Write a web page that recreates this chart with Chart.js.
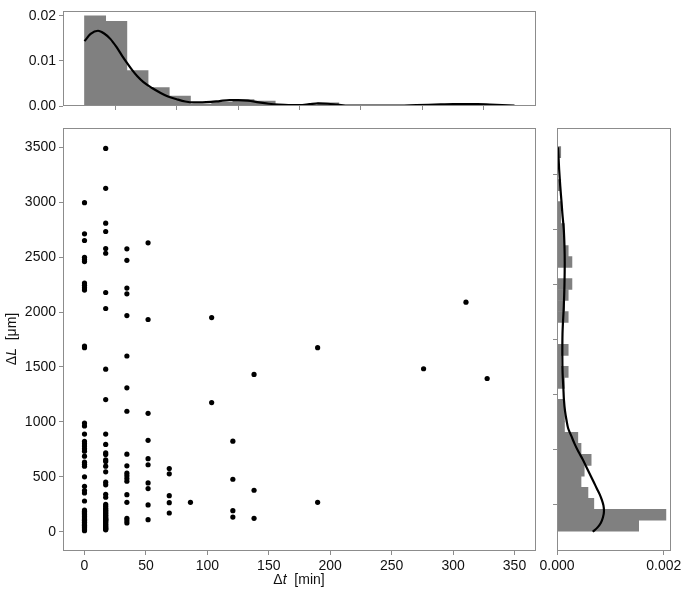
<!DOCTYPE html>
<html>
<head>
<meta charset="utf-8">
<script src="https://cdn.jsdelivr.net/npm/chart.js@4.4.1/dist/chart.umd.min.js"></script>
<style>
  html, body { margin: 0; padding: 0; background: #fff; }
  #wrap { position: relative; width: 685px; height: 594px; }
  #wrap canvas { position: absolute; left: 0; top: 0; }
</style>
</head>
<body>
<div id="wrap">
  <canvas id="topHist" width="685" height="594"></canvas>
  <canvas id="sideHist" width="685" height="594"></canvas>
  <canvas id="scatter" width="685" height="594"></canvas>
</div>
<script>
// lag times (min) and the ΔL values (µm) seen at each lag
const lagMinutes = [0, 17.25, 34.5, 51.75, 69, 86.25, 103.5, 120.75, 138, 189.75, 276, 310.5, 327.75];
const lag0 = [2995, 2712, 2651, 2498, 2477, 2459, 2264, 2243, 2221, 2200, 1690, 1675,
  990, 963, 889, 822, 802, 780, 756, 734, 688, 633, 615, 597, 500, 414, 375, 353, 280,
  198, 187, 176, 167, 157, 146, 139, 127, 118, 111, 106, 97, 87, 79, 67, 59, 47, 39, 27, 19, 10];
const lag17 = [3489, 3126, 2809, 2733, 2578, 2535, 2178, 2032, 1480, 1203,
  889, 795, 719, 704, 655, 640, 597, 546, 451, 427, 341, 314, 249, 232, 215,
  201, 191, 183, 171, 163, 151, 143, 131, 123, 114, 109, 106, 95, 86, 74, 66, 54, 46, 37, 31, 24, 18];
const lag34 = [2575, 2471, 2218, 2166, 1968, 1600, 1310, 1097, 706, 600, 533, 509, 485, 460, 338, 268, 122, 101, 80];
const lag52 = [2630, 1932, 1078, 832, 665, 610, 445, 393, 244, 110];
const lag69 = [576, 527, 329, 265, 171];
const lag86 = [268];
const lag104 = [1950, 1176];
const lag121 = [825, 478, 192, 134];
const lag138 = [1432, 378, 122];
const lag190 = [1676, 268];
const lag276 = [1484];
const lag311 = [2090];
const lag328 = [1395];
const lengthsByLag = [lag0, lag17, lag34, lag52, lag69, lag86, lag104, lag121, lag138, lag190, lag276, lag311, lag328];

// marginal histogram of Δt (density), 19 bins of 17.25 min from 0
const topBinWidth = 17.25;
const topHistDensity = [0.0200, 0.0188, 0.00785, 0.0041, 0.0022, 0.00041, 0.00082, 0.00143, 0.0011,
  0, 0, 0.0007, 0, 0, 0, 0, 0.0002, 0, 0.0003];
// KDE of Δt
const kdeT = [0, 5, 11, 16, 21, 26, 30.5, 35, 39, 43, 48, 55, 62, 68, 75, 82, 89, 96, 103, 110, 118, 125,
  133, 142, 150, 158, 166, 175, 183, 190, 198, 206, 215, 230, 250, 270, 285, 300, 310, 320, 330, 340, 350];
const kdeTDensity = [0.0144, 0.0160, 0.0167, 0.0161, 0.0149, 0.0131, 0.0112, 0.0094, 0.0079, 0.0066, 0.0053,
  0.0040, 0.0029, 0.0021, 0.0015, 0.0010, 0.0008, 0.0008, 0.0009, 0.0011, 0.0013, 0.0013, 0.0012, 0.0008,
  0.0005, 0.0003, 0.0002, 0.0002, 0.0004, 0.0006, 0.0005, 0.0003, 0.0001, 0.0001, 0.0001, 0.0002, 0.0003,
  0.0004, 0.0004, 0.0004, 0.0003, 0.0002, 0.0001];

// marginal histogram of ΔL (density), 35 bins of 100 µm from 5
const sideBinStart = 5;
const sideBinWidth = 100;
const sideHistDensity = [0.00153, 0.00204, 0.00069, 0.00058, 0.00045, 0.00051, 0.00064, 0.00045, 0.00039,
  0.00014, 0.00014, 0.00014, 0, 0.00014, 0.00021, 0.00007, 0.00021, 0, 0, 0.00021, 0.00014, 0.00021,
  0.00028, 0, 0.00028, 0.00021, 0.00014, 0.00014, 0.00007, 0.00007, 0, 0.00007, 0, 0, 0.00007];
// KDE of ΔL
const kdeL = [0, 40, 80, 130, 190, 240, 290, 340, 390, 450, 510, 590, 660, 730, 800, 870, 940, 1010, 1100,
  1200, 1300, 1440, 1600, 1800, 2050, 2250, 2450, 2600, 2750, 2900, 3000, 3150, 3300, 3500];
const kdeLDensity = [0.00067, 0.00076, 0.00082, 0.00086, 0.00088, 0.00087, 0.00084, 0.00080, 0.00075,
  0.00069, 0.00063, 0.00055, 0.00048, 0.00040, 0.00033, 0.00027, 0.00021, 0.00018, 0.00015, 0.00013,
  0.00012, 0.000105, 0.0001, 0.000103, 0.000127, 0.00014, 0.000145, 0.00014, 0.000127, 0.0001, 0.000085,
  0.00006, 0.00004, 0.00002];

// tick labels
const tTicks = [0, 50, 100, 150, 200, 250, 300, 350];
const lTicks = [0, 500, 1000, 1500, 2000, 2500, 3000, 3500];
const topDensityTicks = [0, 0.01, 0.02];
const sideDensityTicks = [0, 0.002];

const FRAME = "#8c8c8c";
const TEXT = "#111";
const FAMILY = "'Liberation Sans', Arial, sans-serif";
const FONT = { family: FAMILY, size: 14 };

function setTicks(values) {
  return function (scale) { scale.ticks = values.map(v => ({ value: v })); };
}

function axis(extra) {
  return Object.assign({
    type: "linear",
    offset: false,
    border: { display: false },
    grid: { display: true, drawOnChartArea: false, drawTicks: true, tickLength: 4, color: FRAME, lineWidth: 1 },
    ticks: { font: FONT, color: TEXT, maxRotation: 0, autoSkip: false, padding: 4 }
  }, extra);
}

const frame = {
  id: "frame",
  afterDraw(chart) {
    const a = chart.chartArea, ctx = chart.ctx;
    ctx.save();
    ctx.strokeStyle = FRAME;
    ctx.lineWidth = 1;
    ctx.strokeRect(Math.round(a.left) + 0.5, Math.round(a.top) + 0.5,
      Math.round(a.right - a.left) - 1, Math.round(a.bottom - a.top) - 1);
    ctx.restore();
  }
};

function drawMixed(ctx, parts, cx, cy, angle) {
  ctx.save();
  ctx.translate(cx, cy);
  ctx.rotate(angle);
  ctx.fillStyle = TEXT;
  ctx.textBaseline = "middle";
  ctx.textAlign = "left";
  const font = it => (it ? "italic " : "") + "14px " + FAMILY;
  let total = 0;
  parts.forEach(p => { ctx.font = font(p[1]); total += ctx.measureText(p[0]).width; });
  let x = -total / 2;
  parts.forEach(p => { ctx.font = font(p[1]); ctx.fillText(p[0], x, 0); x += ctx.measureText(p[0]).width; });
  ctx.restore();
}

const axisTitles = {
  id: "axisTitles",
  afterDraw(chart) {
    drawMixed(chart.ctx, [["Δ", false], ["t", true], ["  [min]", false]], 299, 580, 0);
    drawMixed(chart.ctx, [["Δ", false], ["L", true], ["  [μm]", false]], 12, 339, -Math.PI / 2);
  }
};

const common = {
  responsive: false,
  animation: false,
  devicePixelRatio: 1,
  events: [],
  plugins: { legend: { display: false }, tooltip: { enabled: false } }
};

// scatter
const points = [];
lagMinutes.forEach((t, i) => lengthsByLag[i].forEach(l => points.push({ x: t, y: l })));

new Chart(document.getElementById("scatter"), {
  type: "scatter",
  data: {
    datasets: [{
      data: points,
      pointRadius: 2.6,
      pointHoverRadius: 2.6,
      pointBackgroundColor: "#000",
      pointBorderWidth: 0
    }]
  },
  options: Object.assign({}, common, {
    layout: { padding: { left: 0, top: 128, right: 685 - 536, bottom: 0 } },
    scales: {
      x: axis({
        min: -17.5, max: 367.5,
        afterBuildTicks: setTicks(tTicks),
        afterFit: s => { s.height = 594 - 551; },
        ticks: { font: FONT, color: TEXT, maxRotation: 0, autoSkip: false, padding: 3, callback: v => String(v) }
      }),
      y: axis({
        min: -175, max: 3675,
        afterBuildTicks: setTicks(lTicks),
        afterFit: s => { s.width = 63; },
        ticks: { font: FONT, color: TEXT, autoSkip: false, padding: 3, callback: v => String(v) }
      })
    }
  }),
  plugins: [frame, axisTitles]
});

// top marginal
new Chart(document.getElementById("topHist"), {
  type: "bar",
  data: {
    datasets: [{
      type: "line",
      data: kdeT.map((t, i) => ({ x: t, y: kdeTDensity[i] })),
      borderColor: "#000",
      borderWidth: 2.2,
      pointRadius: 0,
      fill: false,
      cubicInterpolationMode: "monotone",
      order: 0
    }, {
      type: "bar",
      data: topHistDensity.map((h, i) => ({ x: (i + 0.5) * topBinWidth, y: h })),
      backgroundColor: "#808080",
      borderWidth: 0,
      barPercentage: 1,
      categoryPercentage: 1,
      order: 1
    }]
  },
  options: Object.assign({}, common, {
    layout: { padding: { left: 0, top: 1, right: 685 - 536, bottom: 594 - 106 } },
    scales: {
      x: axis({
        min: -17.5, max: 367.5,
        afterBuildTicks: setTicks(tTicks),
        afterFit: s => { s.height = 0; },
        ticks: { callback: () => "" }
      }),
      y: axis({
        min: 0, max: 0.021,
        afterBuildTicks: setTicks(topDensityTicks),
        afterFit: s => { s.width = 63; },
        ticks: { font: FONT, color: TEXT, autoSkip: false, padding: 3, callback: v => v.toFixed(2) }
      })
    }
  }),
  plugins: [frame]
});

// side marginal
new Chart(document.getElementById("sideHist"), {
  type: "bar",
  data: {
    datasets: [{
      type: "line",
      indexAxis: "y",
      data: kdeL.map((l, i) => ({ x: kdeLDensity[i], y: l })),
      borderColor: "#000",
      borderWidth: 2.2,
      pointRadius: 0,
      fill: false,
      cubicInterpolationMode: "monotone",
      order: 0
    }, {
      type: "bar",
      indexAxis: "y",
      data: sideHistDensity.map((h, i) => ({ y: sideBinStart + (i + 0.5) * sideBinWidth, x: h })),
      backgroundColor: "#808080",
      borderWidth: 0,
      barPercentage: 1,
      categoryPercentage: 1,
      order: 1
    }]
  },
  options: Object.assign({}, common, {
    indexAxis: "y",
    layout: { padding: { left: 557, top: 128, right: 685 - 674, bottom: 0 } },
    scales: {
      x: axis({
        position: "bottom",
        min: 0, max: 0.00214,
        afterBuildTicks: setTicks(sideDensityTicks),
        afterFit: s => { s.height = 594 - 551; },
        ticks: { font: FONT, color: TEXT, maxRotation: 0, autoSkip: false, padding: 3, callback: v => v.toFixed(3) }
      }),
      y: axis({
        position: "left",
        min: -175, max: 3675,
        afterBuildTicks: setTicks(lTicks),
        afterFit: s => { s.width = 0; },
        ticks: { callback: () => "" }
      })
    }
  }),
  plugins: [frame]
});
</script>
</body>
</html>
